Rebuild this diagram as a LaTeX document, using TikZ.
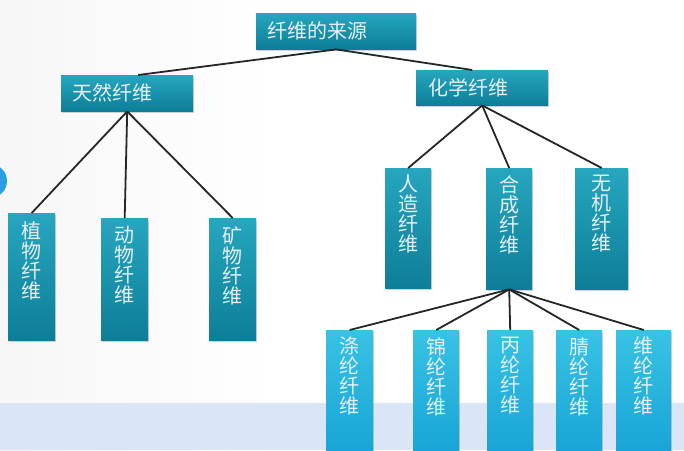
\documentclass[tikz,border=0pt]{standalone}
\usepackage{fontspec}
\setmainfont{Noto Sans CJK SC}
\usetikzlibrary{shadows}
\definecolor{tealA}{HTML}{27A6BF}
\definecolor{tealB}{HTML}{0D7E98}
\definecolor{cyanA}{HTML}{38C2E4}
\definecolor{cyanB}{HTML}{17A4D6}
\definecolor{txt}{HTML}{E6F0F2}
\definecolor{band}{HTML}{DAE6F8}
\definecolor{dotblue}{HTML}{2A9FE0}
\definecolor{bgl}{HTML}{ECECEC}
\pgfdeclarehorizontalshading{bgshade}{100bp}{color(0bp)=(bgl); color(45bp)=(white); color(100bp)=(white)}
\newcommand{\vlab}[4]{\parbox[c][#2][t]{#1}{\centering\vspace*{#3}#4}}
\begin{document}
\begin{tikzpicture}[x=1pt,y=-1pt,
  shade/.style={drop shadow={opacity=0.35,shadow xshift=1pt,shadow yshift=-1.5pt}},
  hbox/.style={shade,top color=tealA,bottom color=tealB,draw=none,text=txt,
    font=\fontsize{20}{20}\selectfont,anchor=north west,align=left,inner xsep=11pt,inner ysep=0pt},
  vbox/.style={shade,top color=tealA,bottom color=tealB,draw=none,text=txt,
    font=\fontsize{20}{20}\selectfont,anchor=north west,inner sep=0pt},
  cbox/.style={vbox,top color=cyanA,bottom color=cyanB},
  conn/.style={draw=black!85,line width=1.8pt}]
\useasboundingbox (0,0) rectangle (684,450);
% background
\shade[shading=bgshade] (0,0) rectangle (684,450);
\fill[band] (0,403) rectangle (684,450);
\fill[dotblue] (-10,181) circle (17);
% top level
\node[hbox,minimum height=36pt,text width=138pt] (src) at (256,13) {纤维的来源};
\node[hbox,minimum height=36pt,text width=110pt] (nat) at (61,75) {天然纤维};
\node[hbox,minimum height=35pt,text width=108pt,inner xsep=12pt] (chem) at (416,70) {化学纤维};
% natural fibres
\node[vbox] (zw) at (8,213) {\vlab{47pt}{127pt}{8pt}{植\\物\\纤\\维}};
\node[vbox] (dw) at (101,218) {\vlab{47pt}{122pt}{8pt}{动\\物\\纤\\维}};
\node[vbox] (kw) at (209,218) {\vlab{47pt}{122pt}{8pt}{矿\\物\\纤\\维}};
% chemical fibres
\node[vbox] (rz) at (385,168) {\vlab{46pt}{120pt}{7pt}{人\\造\\纤\\维}};
\node[vbox] (hc) at (486,168) {\vlab{46pt}{121pt}{7pt}{合\\成\\纤\\维}};
\node[vbox] (wj) at (575,168) {\vlab{53pt}{121pt}{7pt}{无\\机\\纤\\维}};
% synthetic fibres
\node[cbox] (dl) at (326,330) {\vlab{47pt}{125pt}{7pt}{涤\\纶\\纤\\维}};
\node[cbox] (jl) at (413,330) {\vlab{46pt}{125pt}{7pt}{锦\\纶\\纤\\维}};
\node[cbox] (bl) at (487,330) {\vlab{46pt}{125pt}{7pt}{丙\\纶\\纤\\维}};
\node[cbox] (ql) at (556,330) {\vlab{46pt}{125pt}{7pt}{腈\\纶\\纤\\维}};
\node[cbox] (wl) at (616,330) {\vlab{55pt}{125pt}{7pt}{维\\纶\\纤\\维}};
% connectors
\draw[conn] (src.south) -- ([xshift=11pt]nat.north);
\draw[conn] (src.south) -- ([xshift=-10pt]chem.north);
\draw[conn] (nat.south) -- (zw.north);
\draw[conn] (nat.south) -- (dw.north);
\draw[conn] (nat.south) -- (kw.north);
\draw[conn] (chem.south) -- (rz.north);
\draw[conn] (chem.south) -- (hc.north);
\draw[conn] (chem.south) -- (wj.north);
\draw[conn] (hc.south) -- (dl.north);
\draw[conn] (hc.south) -- (jl.north);
\draw[conn] (hc.south) -- (bl.north);
\draw[conn] (hc.south) -- (ql.north);
\draw[conn] (hc.south) -- (wl.north);
\end{tikzpicture}
\end{document}
